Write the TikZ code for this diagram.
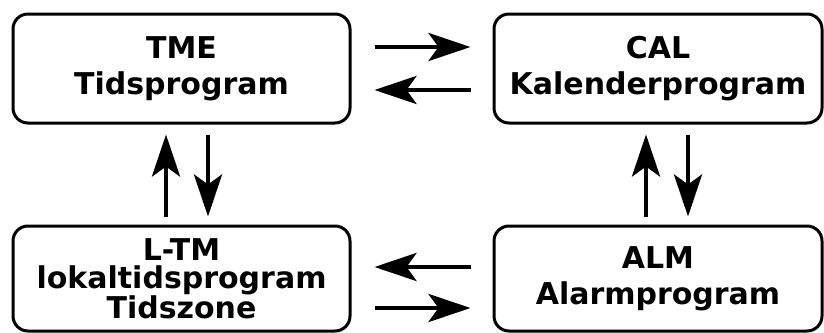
\documentclass[tikz,border=0pt]{standalone}
\usepackage{fontspec}
\setmainfont{DejaVu Sans}
\usetikzlibrary{arrows.meta}

\begin{document}
\begin{tikzpicture}[x=1pt, y=-1pt,
    prog/.style={draw, line width=3pt, rounded corners=15pt, align=center,
      inner sep=0pt, font=\bfseries\fontsize{30}{36}\selectfont},
    flow/.style={line width=4.5pt,
      -{Stealth[length=42pt, width=28pt, inset=10pt]}}]
  \useasboundingbox (0,0) rectangle (824,332);

  \node[prog, minimum width=337pt, minimum height=109pt] (tme) at (181.5, 68.5)
    {TME\\Tidsprogram};
  \node[prog, minimum width=328pt, minimum height=109pt] (cal) at (658, 68.5)
    {CAL\\Kalenderprogram};
  \node[prog, minimum width=337pt, minimum height=105pt,
    font=\bfseries\fontsize{30}{28}\selectfont] (ltm) at (181.5, 278.5)
    {L-TM\\lokaltidsprogram\\Tidszone};
  \node[prog, minimum width=328pt, minimum height=105pt] (alm) at (658, 278.5)
    {ALM\\Alarmprogram};

  % top row
  \draw[flow, shorten <=23pt, shorten >=22pt]
    ([yshift=21.5pt]tme.east) -- ([yshift=21.5pt]cal.west);
  \draw[flow, shorten <=22pt, shorten >=23pt]
    ([yshift=-21.5pt]cal.west) -- ([yshift=-21.5pt]tme.east);
  % bottom row
  \draw[flow, shorten <=22pt, shorten >=23pt]
    ([yshift=11.5pt]alm.west) -- ([yshift=11.5pt]ltm.east);
  \draw[flow, shorten <=23pt, shorten >=22pt]
    ([yshift=-29.5pt]ltm.east) -- ([yshift=-29.5pt]alm.west);
  % left column
  \draw[flow, shorten <=8pt, shorten >=10pt]
    ([xshift=-15.5pt]ltm.north) -- ([xshift=-15.5pt]tme.south);
  \draw[flow, shorten <=10pt, shorten >=8pt]
    ([xshift=26.5pt]tme.south) -- ([xshift=26.5pt]ltm.north);
  % right column
  \draw[flow, shorten <=8pt, shorten >=10pt]
    ([xshift=-12pt]alm.north) -- ([xshift=-12pt]cal.south);
  \draw[flow, shorten <=10pt, shorten >=8pt]
    ([xshift=30pt]cal.south) -- ([xshift=30pt]alm.north);
\end{tikzpicture}
\end{document}
